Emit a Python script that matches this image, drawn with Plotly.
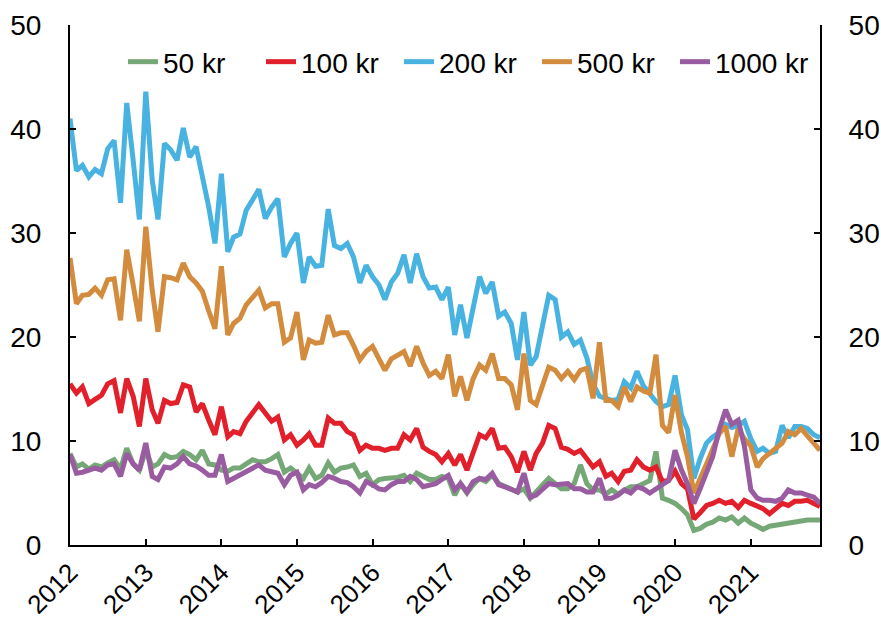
import pandas as pd
import plotly.graph_objects as go

months = pd.date_range("2012-01-01", "2021-12-01", freq="MS")

series_names = ["50 kr", "100 kr", "200 kr", "500 kr", "1000 kr"]
series_colors = ["#76A877", "#E2202B", "#48B3E0", "#D38C3D", "#9A5CA0"]

kr50 = [8.8, 7.5, 7.8, 7.3, 7.7, 7.5, 7.9, 8.2, 7.3, 9.3, 7.8, 7.2,
        9.1, 7.5, 7.8, 8.7, 8.4, 8.5, 9.0, 8.7, 8.2, 9.1, 7.8, 7.7,
        7.2, 7.1, 7.4, 7.4, 7.8, 8.2, 8.0, 8.0, 8.3, 8.7, 7.0, 7.4,
        6.9, 6.4, 7.4, 6.4, 6.7, 7.9, 7.0, 7.4, 7.5, 7.7, 6.6, 6.9,
        5.8, 6.3, 6.4, 6.4, 6.5, 6.7, 6.1, 6.9, 6.6, 6.3, 6.3, 6.6,
        6.4, 4.8, 5.9, 5.0, 5.8, 6.4, 6.1, 6.7, 5.9, 5.6, 5.4, 5.1,
        5.4, 4.5, 5.1, 5.8, 6.4, 5.9, 5.4, 5.4, 5.9, 7.7, 5.9, 5.3,
        5.3, 4.9, 5.3, 4.9, 5.3, 5.6, 5.6, 5.9, 6.2, 9.0, 4.5, 4.3,
        4.0, 3.5, 2.9, 1.4, 1.6, 2.0, 2.2, 2.6, 2.4, 2.7, 2.1, 2.6,
        2.1, 1.8, 1.5, 1.8, 1.9, 2.1, 2.1, 2.2, 2.4, 2.4, 2.4, 2.4]

kr100 = [15.5, 14.6, 15.2, 13.6, 14.0, 14.4, 15.5, 15.8, 12.7, 16.0, 14.3, 11.4,
         16.0, 13.0, 11.7, 13.9, 13.6, 13.7, 15.4, 15.2, 12.8, 13.6, 12.0, 10.6,
         13.3, 10.4, 10.9, 10.7, 11.9, 12.7, 13.5, 12.7, 11.9, 12.3, 10.1, 10.6,
         9.6, 10.1, 10.7, 9.6, 9.6, 12.2, 11.7, 11.7, 10.9, 10.6, 9.1, 9.6,
         9.3, 9.3, 9.1, 9.3, 9.3, 10.6, 10.1, 11.2, 9.4, 9.0, 8.7, 8.0,
         8.8, 7.7, 8.7, 7.2, 8.8, 10.6, 10.3, 11.2, 9.3, 9.4, 8.5, 7.0,
         9.0, 7.2, 8.8, 9.8, 11.5, 11.2, 9.4, 9.2, 8.8, 9.1, 8.3, 7.5,
         8.0, 6.6, 6.9, 6.1, 7.1, 7.2, 8.2, 7.5, 7.2, 7.5, 6.1, 6.2,
         7.1, 5.9, 5.4, 2.5, 3.1, 3.8, 4.0, 4.3, 4.0, 4.2, 3.6, 4.3,
         4.0, 3.7, 3.5, 3.0, 3.5, 4.0, 3.8, 4.2, 4.2, 4.3, 4.0, 3.7]

kr200 = [41.0, 36.0, 36.5, 35.4, 36.1, 35.7, 38.1, 38.9, 32.9, 42.5, 37.0, 31.3,
         43.6, 35.1, 31.3, 38.6, 38.0, 37.0, 40.1, 37.3, 38.3, 35.5, 32.5, 29.0,
         35.7, 28.2, 29.6, 29.9, 32.2, 33.2, 34.2, 31.4, 32.5, 33.3, 27.7, 29.0,
         30.0, 25.2, 27.7, 26.8, 26.9, 32.3, 28.8, 28.5, 29.0, 27.7, 25.2, 26.9,
         25.8, 25.0, 23.6, 25.3, 26.1, 27.9, 25.2, 28.0, 25.8, 24.7, 24.8, 23.6,
         24.8, 20.2, 23.1, 19.9, 23.0, 25.8, 24.2, 25.3, 22.0, 22.4, 21.3, 17.8,
         22.4, 17.3, 18.1, 21.0, 24.0, 23.6, 20.0, 20.5, 19.3, 19.7, 18.0, 15.5,
         14.3, 14.1, 13.9, 14.0, 15.7, 15.1, 16.7, 15.3, 14.6, 13.8, 13.3, 13.5,
         16.3, 12.5, 11.1, 6.4, 8.3, 9.8, 10.4, 10.8, 11.6, 11.3, 11.5, 11.9,
         10.2, 9.0, 9.3, 8.8, 9.0, 11.5, 10.3, 11.4, 11.4, 11.2, 10.6, 10.3]

kr500 = [27.6, 23.2, 24.0, 24.1, 24.7, 24.0, 25.5, 25.6, 21.6, 28.4, 25.0, 21.5,
         30.6, 24.5, 20.5, 25.8, 25.7, 25.5, 27.1, 25.8, 25.2, 24.4, 22.5, 20.8,
         26.8, 20.2, 21.3, 21.8, 23.1, 23.8, 24.5, 22.8, 23.2, 23.2, 19.5, 19.9,
         22.4, 17.8, 19.7, 19.4, 19.5, 22.1, 20.2, 20.4, 20.4, 19.2, 17.8, 18.6,
         19.1, 17.9, 16.8, 17.9, 18.3, 18.6, 17.2, 19.1, 17.5, 16.3, 16.7, 16.0,
         18.3, 14.3, 16.2, 13.9, 16.0, 17.3, 16.8, 18.4, 16.0, 16.0, 15.4, 13.0,
         18.4, 13.9, 13.5, 15.5, 17.1, 16.8, 16.0, 16.7, 15.9, 16.8, 17.0, 14.1,
         19.5, 13.9, 13.9, 13.3, 15.2, 13.8, 15.2, 14.8, 14.6, 18.3, 11.5, 10.8,
         14.4, 10.8, 8.5, 5.0, 6.5, 7.8, 9.2, 10.7, 11.4, 8.5, 11.2, 10.2,
         9.5, 7.5, 8.3, 8.8, 9.4, 9.8, 10.9, 10.6, 11.2, 10.5, 9.8, 9.1]

kr1000 = [8.7, 6.9, 7.0, 7.2, 7.4, 7.2, 7.7, 7.8, 6.6, 8.8, 7.8, 7.2,
          9.8, 6.6, 6.3, 7.5, 7.4, 7.8, 8.5, 7.8, 7.6, 7.2, 6.7, 6.7,
          8.7, 6.1, 6.4, 6.7, 7.0, 7.4, 7.7, 7.2, 7.0, 6.9, 5.8, 6.7,
          7.0, 5.3, 5.8, 5.6, 6.0, 6.6, 6.4, 6.1, 6.0, 5.6, 5.0, 6.1,
          5.8, 5.4, 5.3, 5.8, 6.1, 6.1, 6.6, 6.3, 5.6, 5.8, 5.9, 6.3,
          6.7, 5.3, 5.9, 5.1, 6.1, 6.4, 6.3, 6.9, 5.8, 5.6, 5.4, 5.1,
          6.9, 4.6, 4.8, 5.3, 5.9, 5.8, 5.8, 5.9, 5.4, 5.4, 5.1, 5.1,
          6.4, 4.5, 4.5, 4.8, 5.3, 5.0, 5.6, 5.4, 5.0, 5.4, 5.9, 6.2,
          9.1, 7.2, 5.9, 4.0, 5.4, 6.9, 8.5, 11.1, 13.0, 11.6, 12.0, 9.5,
          5.3, 4.5, 4.3, 4.3, 4.2, 4.5, 5.3, 5.0, 5.0, 4.8, 4.6, 4.0]

year_ticks = pd.date_range("2012-01-01", "2021-01-01", freq="YS")
year_labels = [str(d.year) for d in year_ticks]
y_ticks = [0, 10, 20, 30, 40, 50]

FONT = "Liberation Sans, Arial, sans-serif"
FS = 28

fig = go.Figure()
for name, vals, col in zip(series_names, [kr50, kr100, kr200, kr500, kr1000], series_colors):
    fig.add_trace(go.Scatter(x=months, y=vals, name=name, mode="lines",
                             line=dict(color=col, width=5)))

axis_common = dict(showline=True, linecolor="black", linewidth=2,
                   ticks="inside", ticklen=6, tickwidth=2, tickcolor="black",
                   showgrid=False, zeroline=False, automargin=False,
                   tickfont=dict(family=FONT, size=FS, color="black"))

fig.update_layout(
    width=881, height=625,
    margin=dict(l=70, r=61, t=25, b=80, autoexpand=False),
    paper_bgcolor="white", plot_bgcolor="white",
    font=dict(family=FONT, size=FS, color="black"),
    xaxis=dict(range=[months[0], months[-1]], tickvals=list(year_ticks),
               ticktext=year_labels, tickangle=-45,
               **{**axis_common, "tickfont": dict(family=FONT, size=26, color="black")}),
    yaxis=dict(range=[0, 50], tickvals=y_ticks, ticklabelstandoff=21, **axis_common),
    yaxis2=dict(range=[0, 50], tickvals=y_ticks, overlaying="y", side="right",
                matches="y", ticklabelstandoff=21, **axis_common),
    legend=dict(orientation="h", x=0.0707, y=0.977, xanchor="left", yanchor="top",
                bgcolor="rgba(0,0,0,0)", font=dict(family=FONT, size=FS),
                entrywidth=93, entrywidthmode="pixels", tracegroupgap=0),
    showlegend=True,
)
fig.add_trace(go.Scatter(x=[months[0]], y=[None], yaxis="y2", showlegend=False,
                         hoverinfo="skip"))

fig.write_html("out.html", config={"displayModeBar": False},
               post_script="document.body.style.margin='0';document.body.style.overflow='hidden';")
